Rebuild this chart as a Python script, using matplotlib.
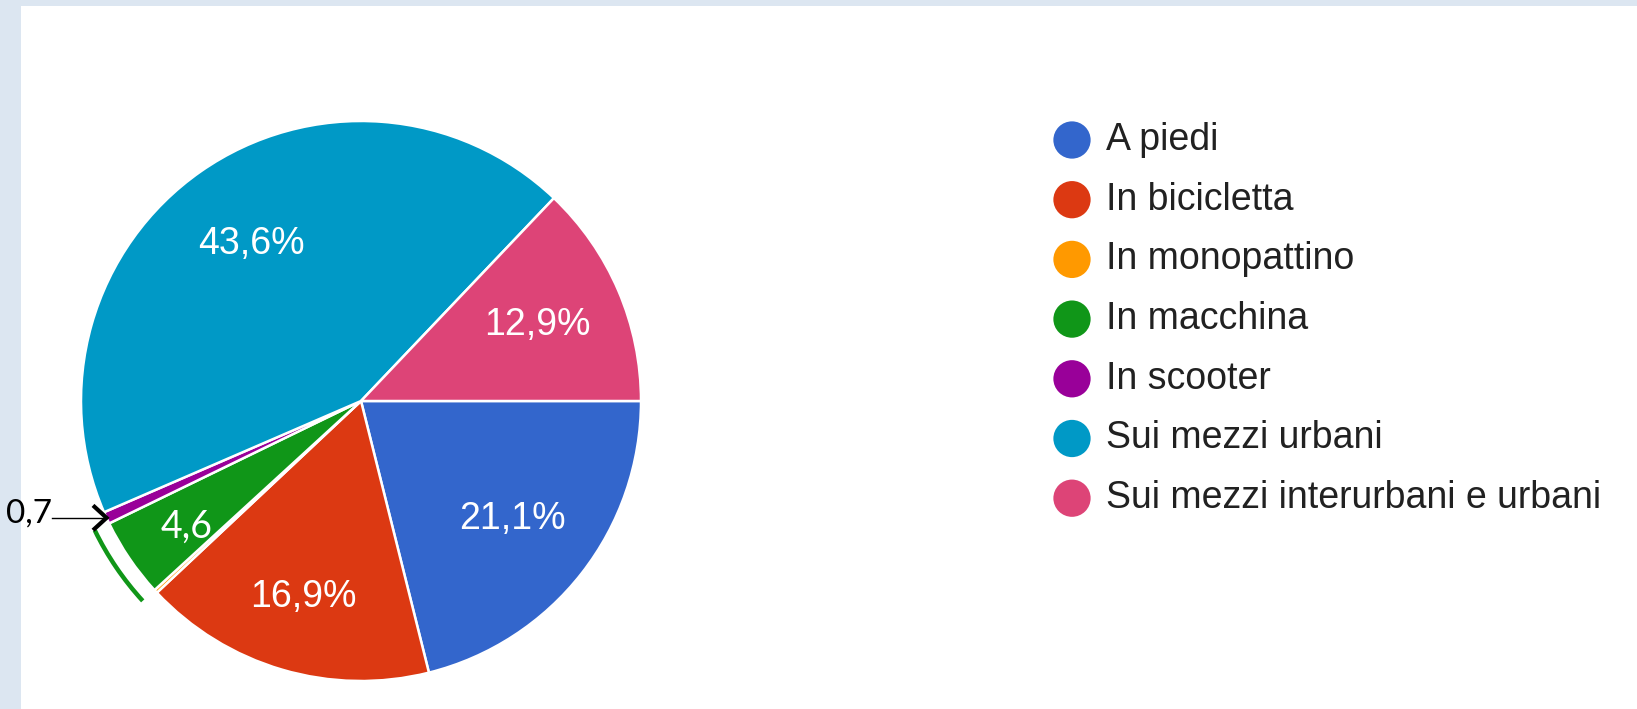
import numpy as np
import matplotlib
matplotlib.use("Agg")
import matplotlib.pyplot as plt
from matplotlib.patches import Arc, Rectangle

labels = ["A piedi", "In bicicletta", "In monopattino", "In macchina",
          "In scooter", "Sui mezzi urbani", "Sui mezzi interurbani e urbani"]
values = [21.1, 16.9, 0.2, 4.6, 0.7, 43.6, 12.9]
colors = ["#3366cc", "#dc3912", "#ff9900", "#109618", "#990099", "#0099c6", "#dd4477"]

W, H = 1637, 709
fig = plt.figure(figsize=(W / 100, H / 100), dpi=100, facecolor="#dce6f1")
ax = fig.add_axes([0, 0, 1, 1])
ax.set_axis_off()

# white card on the blue-grey page
ax.add_patch(Rectangle((21, 0), W - 21, H - 6, facecolor="white", edgecolor="none", zorder=0))

cx, cy, r = 361, 308, 280
wedges, _ = ax.pie(values, colors=colors, startangle=0, counterclock=False,
                   center=(cx, cy), radius=r, frame=True,
                   wedgeprops=dict(edgecolor="white", linewidth=1.8))
ax.set_xlim(0, W)
ax.set_ylim(0, H)
ax.set_aspect("equal")


def mid_point(w, dist):
    a = np.deg2rad((w.theta1 + w.theta2) / 2)
    return cx + r * dist * np.cos(a), cy + r * dist * np.sin(a)


# percentage labels, only on the big slices
for w, v in zip(wedges, values):
    if v < 5:
        continue
    d = 0.73 if v == 16.9 else 0.685
    x, y = mid_point(w, d)
    ax.text(x, y, f"{v:.1f}%".replace(".", ","), color="white", fontsize=27,
            family="Liberation Sans", ha="center", va="center")

# hand-made annotations for the small slices
car = wedges[3]
x, y = mid_point(car, 0.775)
ax.text(x + 5, y - 4, "4,6", color="white", fontsize=27, family="Lato", ha="center", va="center")
ax.add_patch(Arc((cx, cy), 2 * r * 1.057, 2 * r * 1.057, theta1=car.theta1, theta2=car.theta2,
                 color="#109618", lw=3.2))

scooter = wedges[4]
tx, ty = mid_point(scooter, 1.0)
ax.plot([tx - 55, tx], [ty, ty], color="black", lw=1.0)
ax.plot([tx - 12, tx, tx - 12], [ty + 11, ty, ty - 11], color="black", lw=3.0,
        solid_joinstyle="miter")
ax.text(tx - 54, ty + 4, "0,7", color="black", fontsize=24, family="Lato", ha="right", va="center")

# legend
for i, (lab, col) in enumerate(zip(labels, colors)):
    ly = H - (140 + i * 59.7)
    ax.scatter([1072], [ly], s=720, color=col, edgecolors="none")
    ax.text(1106, ly, lab, fontsize=27, family="Liberation Sans", color="#212121",
            ha="left", va="center")

fig.savefig("out.png", dpi=100, facecolor=fig.get_facecolor())
